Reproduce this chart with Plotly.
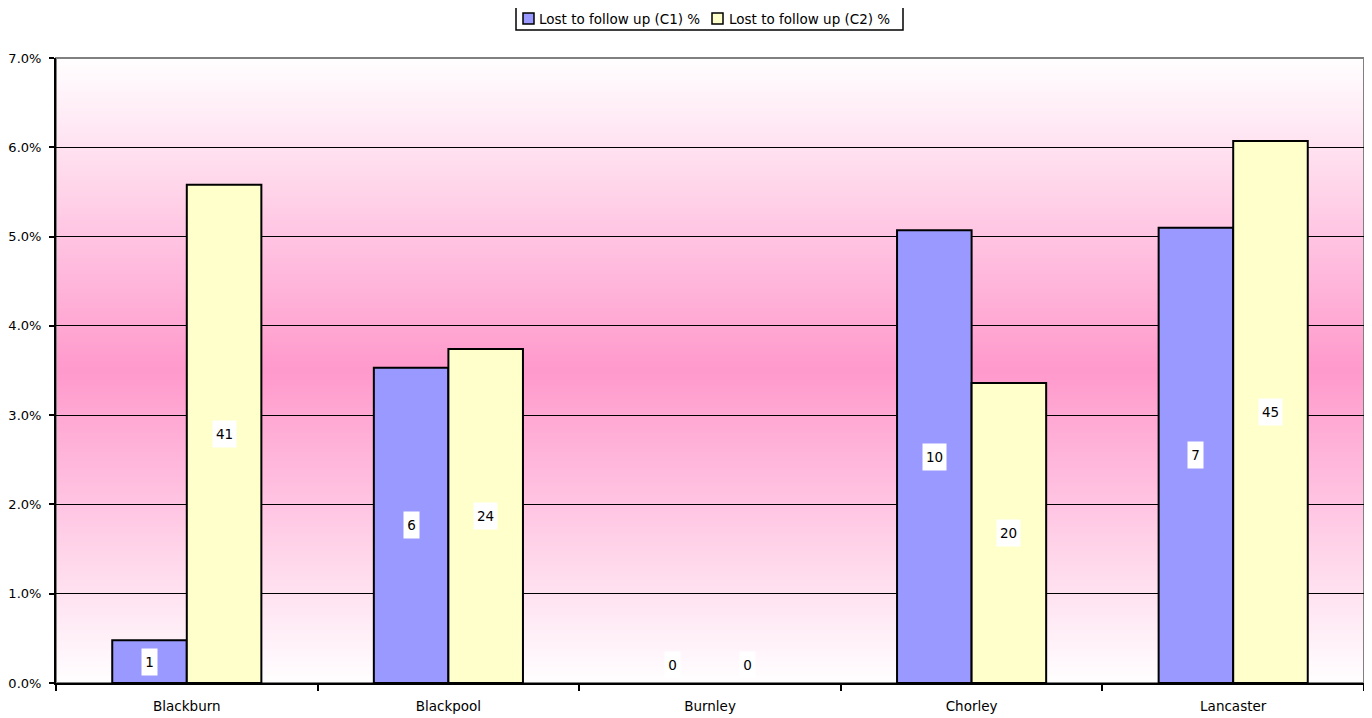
import plotly.graph_objects as go

categories = ["Blackburn", "Blackpool", "Burnley", "Chorley", "Lancaster"]
c1_pct = [0.48, 3.53, 0.0, 5.07, 5.10]
c2_pct = [5.58, 3.74, 0.0, 3.36, 6.07]
c1_counts = [1, 6, 0, 10, 7]
c2_counts = [41, 24, 0, 20, 45]
series_names = ["Lost to follow up (C1) %", "Lost to follow up (C2) %"]
series_colors = ["#9999FF", "#FFFFCC"]
y_ticks = [0, 1, 2, 3, 4, 5, 6, 7]

FONT = "DejaVu Sans"

# page body has an 8px margin; compensate so the plot area lands at x 56..1364, y 58..683
W, H = 1364, 710
ML, MR, MT, MB = 48, 8, 50, 35
PW, PH = W - ML - MR, H - MT - MB

def px_x(px):
    return (px - 8 - ML) / PW

def px_y(py):
    return (H - MB - (py - 8)) / PH

fig = go.Figure()
for vals, name, col in [(c1_pct, series_names[0], series_colors[0]),
                        (c2_pct, series_names[1], series_colors[1])]:
    fig.add_trace(go.Bar(x=categories, y=vals, name=name, showlegend=False,
                         marker=dict(color=col,
                                     line=dict(color="black",
                                               width=[2 if v > 0 else 0 for v in vals]))))

bargap = 0.43
half = (1 - bargap) / 2
shift_px = PW / len(categories) * half / 2

LBL = 13.5
annotations = []
for vals, counts, sgn in [(c1_pct, c1_counts, -1), (c2_pct, c2_counts, 1)]:
    for cat, v, n in zip(categories, vals, counts):
        txt = str(n)
        a = dict(x=cat, y=v / 2, xref="x", yref="y", text=txt, showarrow=False,
                 xshift=sgn * shift_px, bgcolor="white", borderpad=1,
                 width=round(0.64 * LBL * len(txt) + 4), height=24,
                 font=dict(family=FONT, size=LBL, color="black"))
        if v == 0:
            a.update(y=0, yanchor="bottom", yshift=4)
        annotations.append(a)

# vertical gradient background: white - pink - white
shapes = []
N = 200
ymax = 7.0
def mix(t):
    c0 = (255, 255, 255)
    c1 = (255, 153, 204)
    return "rgb(%d,%d,%d)" % tuple(round(a + (b - a) * t) for a, b in zip(c0, c1))
step = ymax / N
for i in range(N):
    y0 = step * i
    y1 = min(ymax, y0 + 2 * step)
    ym = (y0 + step / 2) / ymax
    t = 1 - abs(ym - 0.5) * 2
    shapes.append(dict(type="rect", xref="paper", yref="y", x0=0, x1=1, y0=y0, y1=y1,
                       fillcolor=mix(t), line=dict(width=0), layer="below"))
shapes.append(dict(type="rect", xref="paper", yref="paper", x0=0, x1=1, y0=0, y1=1,
                   line=dict(color="#808080", width=2), layer="below"))

# custom compact legend (as in the reference)
shapes.append(dict(type="rect", xref="paper", yref="paper",
                   x0=px_x(516), x1=px_x(903), y0=px_y(30), y1=px_y(5),
                   fillcolor="white", line=dict(color="black", width=1.5), layer="above"))
legend_items = [(523, 537), (712, 727)]
for (sq, tx), name, col in zip(legend_items, series_names, series_colors):
    shapes.append(dict(type="rect", xref="paper", yref="paper",
                       x0=px_x(sq), x1=px_x(sq + 11), y0=px_y(24), y1=px_y(13),
                       fillcolor=col, line=dict(color="black", width=1.5), layer="above"))
    annotations.append(dict(x=px_x(tx), y=px_y(18.5), xref="paper", yref="paper",
                            xanchor="left", yanchor="middle", text=name, showarrow=False,
                            font=dict(family=FONT, size=13.5, color="black")))

fig.update_layout(
    width=W, height=H,
    margin=dict(l=ML, r=MR, t=MT, b=MB, autoexpand=False),
    paper_bgcolor="white", plot_bgcolor="white",
    barmode="group", bargap=bargap, bargroupgap=0,
    font=dict(family=FONT, size=13, color="black"),
    showlegend=False,
    xaxis=dict(showline=True, linecolor="black", linewidth=2, ticks="outside",
               tickson="boundaries", ticklen=6, tickcolor="black", tickwidth=1.5,
               showgrid=False, ticklabelstandoff=10, tickfont=dict(family=FONT, size=13.5)),
    yaxis=dict(range=[0, 7], tickvals=y_ticks, ticktext=["%.1f%%" % v for v in y_ticks],
               showline=True, linecolor="black", linewidth=2, ticks="outside", ticklen=5,
               tickwidth=1.5, tickcolor="black", showgrid=True, gridcolor="black",
               gridwidth=1, zeroline=False, ticklabelstandoff=5,
               tickfont=dict(family=FONT, size=13)),
    annotations=annotations, shapes=shapes,
)
fig.write_html("out.html")
